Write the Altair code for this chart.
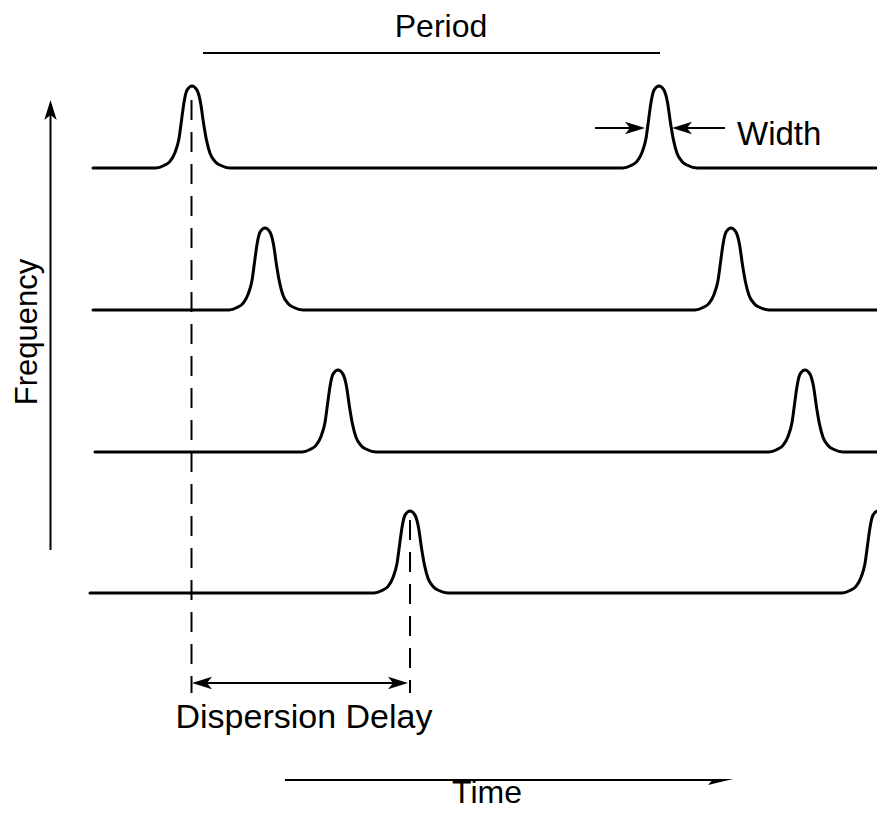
import altair as alt
import pandas as pd

# ---- schematic values (page pixel units: x = time, y = downwards) ----
row_names = ["f1", "f2", "f3", "f4"]
row_baseline = [168, 310, 452, 593]
row_start = [93, 93, 95, 90]
row_end = [880, 880, 880, 885]
pulse_times = [[192, 659], [265, 731], [338, 805], [410, 878]]
pulse_height = 82

# pulse profile: offset from peak, fraction of height
profile_dx = [-36, -28, -22, -17, -13, -10.5, -8, -5, 0, 5, 8.5, 11.5, 14.5, 18, 23, 29, 38]
profile_h = [0, 0.03, 0.08, 0.19, 0.36, 0.58, 0.80, 0.95, 1, 0.95, 0.80, 0.55, 0.34, 0.18, 0.08, 0.03, 0]

# solid segments: Period bar, Width arrows, Dispersion arrow, Time arrow, Frequency arrow
seg_x1 = [203, 595, 725, 196, 285, 50.5]
seg_y1 = [53, 128, 128, 683, 780, 110]
seg_x2 = [660, 636, 680, 402, 720, 50.5]
seg_y2 = [53, 128, 128, 683, 780, 550]
seg_w = [2, 2, 2, 2, 2.2, 2]

# dashed reference lines
dash_x = [191.5, 410]
dash_y1 = [100, 520]
dash_y2 = [693, 693]

# arrow heads (tip position and direction)
head_x = [645, 672, 192, 408, 50.5]
head_y = [128, 128, 683, 683, 100]
head_angle = [0, 180, 180, 0, 270]
time_head_x = [733]
time_head_y = [780]

# labels
lab_text = ["Period", "Time"]
lab_x = [441, 487]
lab_y = [37, 803]
disp_text = ["Dispersion Delay"]
disp_x = [304]
disp_y = [728]
width_text = ["Width"]
width_x = [737]
width_y = [145]
freq_text = ["Frequency"]
freq_x = [37]
freq_y = [332]

# ---- build tables ----
rows = []
for r, name in enumerate(row_names):
    base = row_baseline[r]
    pts = [(row_start[r], base)]
    for t in pulse_times[r]:
        for dx, h in zip(profile_dx, profile_h):
            pts.append((t + dx, base - h * pulse_height))
    if row_end[r] > pts[-1][0]:
        pts.append((row_end[r], base))
    for i, (x, y) in enumerate(pts):
        rows.append({"row": name, "i": i, "x": x, "y": y})
curves = pd.DataFrame(rows)

segs = pd.DataFrame({"x": seg_x1, "y": seg_y1, "x2": seg_x2, "y2": seg_y2, "w": seg_w})
dashes = pd.DataFrame({"x": dash_x, "y": dash_y1, "y2": dash_y2})
heads = pd.DataFrame({"x": head_x, "y": head_y, "a": head_angle})
thead = pd.DataFrame({"x": time_head_x, "y": time_head_y})
labs = pd.DataFrame({"t": lab_text, "x": lab_x, "y": lab_y})
dlab = pd.DataFrame({"t": disp_text, "x": disp_x, "y": disp_y})
wlab = pd.DataFrame({"t": width_text, "x": width_x, "y": width_y})
flab = pd.DataFrame({"t": freq_text, "x": freq_x, "y": freq_y})

xs = alt.Scale(domain=[8, 877], nice=False, zero=False)
ys = alt.Scale(domain=[8, 811], nice=False, zero=False, reverse=True)
X = lambda f="x": alt.X(f"{f}:Q", scale=xs, axis=None)
Y = lambda f="y": alt.Y(f"{f}:Q", scale=ys, axis=None)

FONT = "Liberation Sans"

line = alt.Chart(curves).mark_line(color="black", strokeWidth=3, interpolate="monotone",
                                   clip=True, strokeCap="round", strokeJoin="round").encode(
    x=X(), y=Y(), detail="row:N", order="i:Q")

rules = alt.Chart(segs).mark_rule(color="black").encode(
    x=X(), y=Y(), x2="x2:Q", y2="y2:Q", strokeWidth=alt.StrokeWidth("w:Q", scale=None))

dashed = alt.Chart(dashes).mark_rule(color="black", strokeWidth=2, strokeDash=[20, 12]).encode(
    x=X(), y=Y(), y2="y2:Q")

arrow_shape = "M0,0L-2,-0.62L-1.5,0L-2,0.62Z"
arrows = alt.Chart(heads).mark_point(shape=arrow_shape, filled=True, color="black",
                                     size=400, opacity=1, strokeWidth=0).encode(
    x=X(), y=Y(), angle=alt.Angle("a:Q", scale=None))

time_shape = "M0,-0.1L-2.5,0.5L-2.1,0.05L-2.5,-0.1Z"
tarrow = alt.Chart(thead).mark_point(shape=time_shape, filled=True, color="black",
                                     size=400, opacity=1, strokeWidth=0).encode(x=X(), y=Y())

labels = alt.Chart(labs).mark_text(font=FONT, fontSize=32, color="black", align="center",
                                   baseline="alphabetic").encode(x=X(), y=Y(), text="t:N")
dlabel = alt.Chart(dlab).mark_text(font=FONT, fontSize=34, color="black", align="center",
                                   baseline="alphabetic").encode(x=X(), y=Y(), text="t:N")
wlabel = alt.Chart(wlab).mark_text(font=FONT, fontSize=33, color="black", align="left",
                                   baseline="alphabetic").encode(x=X(), y=Y(), text="t:N")
flabel = alt.Chart(flab).mark_text(font=FONT, fontSize=31, color="black", align="center",
                                   baseline="alphabetic", angle=270).encode(x=X(), y=Y(), text="t:N")

chart = alt.layer(line, dashed, rules, arrows, tarrow, labels, dlabel, wlabel, flabel).properties(
    width=869, height=803, padding=0, autosize="none", background="white"
).configure_view(stroke=None)

chart.save("out.html", embed_options={"renderer": "svg", "actions": False})
